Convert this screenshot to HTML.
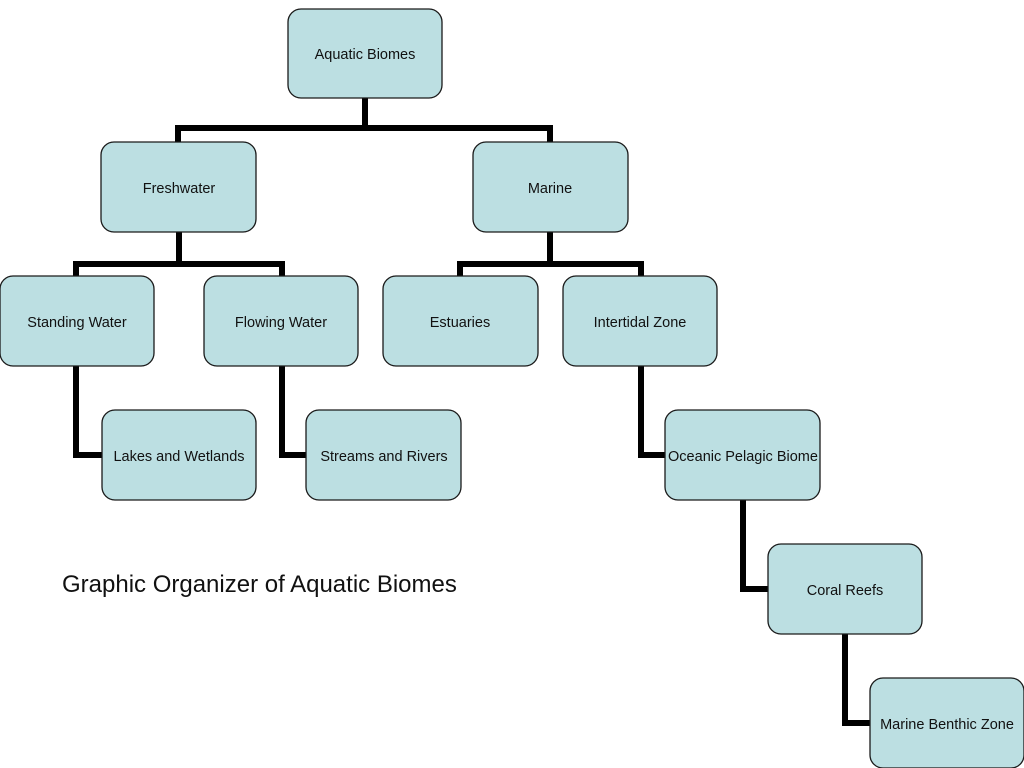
<!DOCTYPE html>
<html><head><meta charset="utf-8"><style>
html,body{margin:0;padding:0;background:#fff;width:1024px;height:768px;overflow:hidden}
svg{display:block}
text{font-family:"Liberation Sans",sans-serif;font-size:14.5px;fill:#111}
</style></head><body>
<svg width="1024" height="768" viewBox="0 0 1024 768">
<g stroke="#000" stroke-width="6" fill="none" stroke-linecap="butt">
<path d="M365 98 V128"/><path d="M178 128 H553"/><path d="M178 125 V142"/><path d="M550 125 V142"/>
<path d="M179 232 V264"/><path d="M73 264 H285"/><path d="M76 261 V276"/><path d="M282 261 V276"/>
<path d="M550 232 V264"/><path d="M457 264 H644"/><path d="M460 261 V276"/><path d="M641 261 V276"/>
<path d="M76 366 V455 H102"/>
<path d="M282 366 V455 H306"/>
<path d="M641 366 V455 H665"/>
<path d="M743 500 V589 H768"/>
<path d="M845 634 V723 H870"/>
</g>
<g fill="#bcdfe2" stroke="#1a1a1a" stroke-width="1.3">
<rect x="288" y="9" width="154" height="89" rx="13"/>
<rect x="101" y="142" width="155" height="90" rx="13"/>
<rect x="473" y="142" width="155" height="90" rx="13"/>
<rect x="0" y="276" width="154" height="90" rx="13"/>
<rect x="204" y="276" width="154" height="90" rx="13"/>
<rect x="383" y="276" width="155" height="90" rx="13"/>
<rect x="563" y="276" width="154" height="90" rx="13"/>
<rect x="102" y="410" width="154" height="90" rx="13"/>
<rect x="306" y="410" width="155" height="90" rx="13"/>
<rect x="665" y="410" width="155" height="90" rx="13"/>
<rect x="768" y="544" width="154" height="90" rx="13"/>
<rect x="870" y="678" width="154" height="90" rx="13"/>
</g>
<g text-anchor="middle">
<text x="365" y="59">Aquatic Biomes</text>
<text x="179" y="193">Freshwater</text>
<text x="550" y="193">Marine</text>
<text x="77" y="327">Standing Water</text>
<text x="281" y="327">Flowing Water</text>
<text x="460" y="327">Estuaries</text>
<text x="640" y="327">Intertidal Zone</text>
<text x="179" y="461">Lakes and Wetlands</text>
<text x="384" y="461">Streams and Rivers</text>
<text x="743" y="461">Oceanic Pelagic Biome</text>
<text x="845" y="595">Coral Reefs</text>
<text x="947" y="729">Marine Benthic Zone</text>
</g>
<text x="62" y="592" style="font-size:24px">Graphic Organizer of Aquatic Biomes</text>
</svg>
</body></html>
